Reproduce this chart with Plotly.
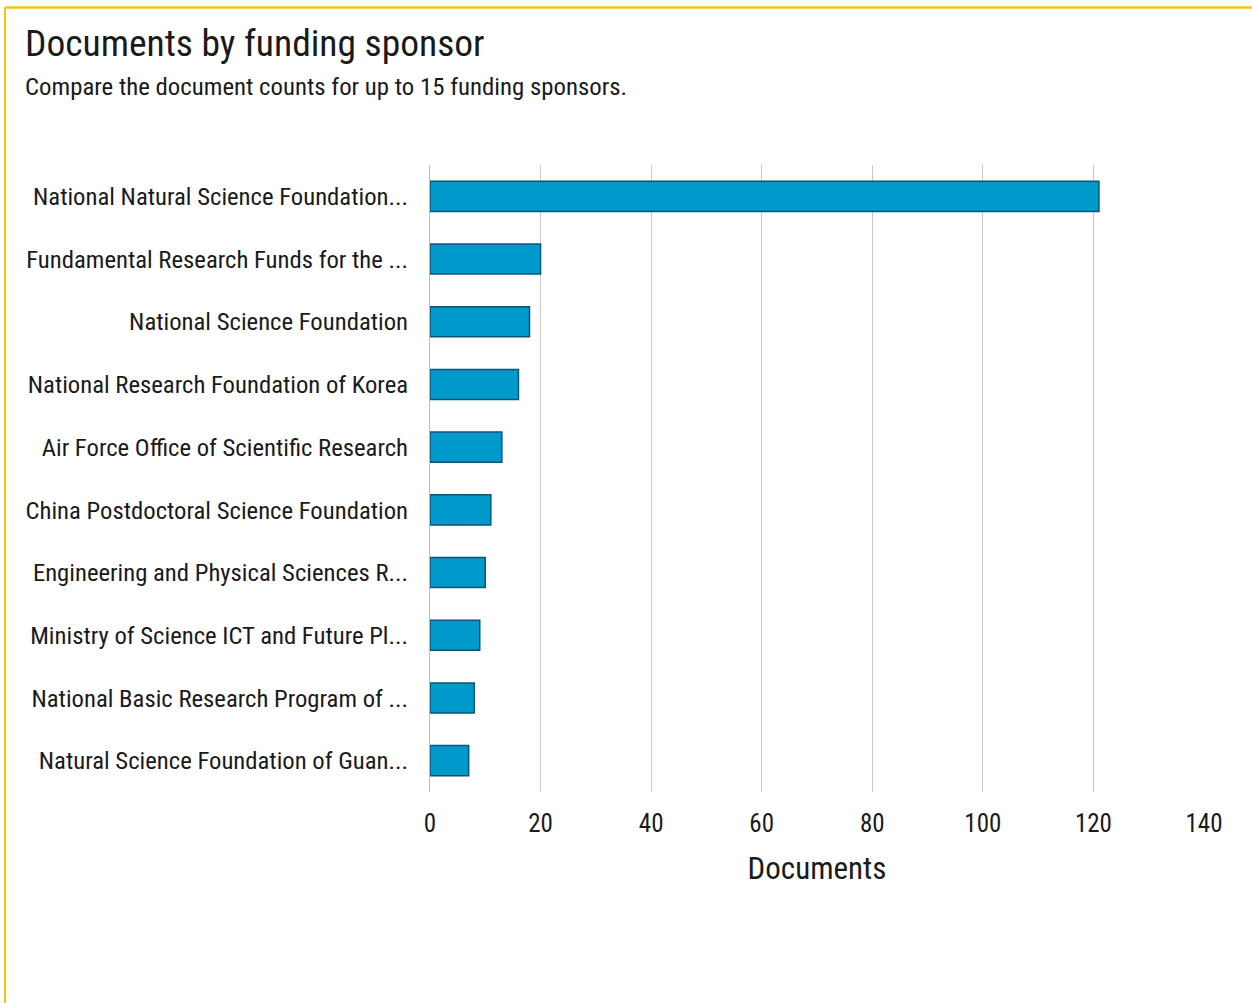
import plotly.graph_objects as go

sponsors = [
    "National Natural Science Foundation...",
    "Fundamental Research Funds for the ...",
    "National Science Foundation",
    "National Research Foundation of Korea",
    "Air Force Office of Scientific Research",
    "China Postdoctoral Science Foundation",
    "Engineering and Physical Sciences R...",
    "Ministry of Science ICT and Future Pl...",
    "National Basic Research Program of ...",
    "Natural Science Foundation of Guan...",
]
documents = [121, 20, 18, 16, 13, 11, 10, 9, 8, 7]
tick_values = [0, 20, 40, 60, 80, 100, 120, 140]

FONT = "Liberation Sans Narrow, Roboto Condensed, Liberation Sans, sans-serif"

L, R, T, B = 430, 48, 165, 211
PW, PH = 1252 - L - R, 1003 - T - B


def px_x(px):
    return (px - L) / PW


def px_y(py):
    return 1 - (py - T) / PH


fig = go.Figure(
    go.Bar(
        x=documents,
        y=sponsors,
        orientation="h",
        width=0.48,
        marker=dict(color="#0099cc", line=dict(color="#0b5578", width=1.5)),
        hoverinfo="x+y",
    )
)

fig.update_layout(
    width=1252,
    height=1003,
    paper_bgcolor="white",
    plot_bgcolor="white",
    margin=dict(l=L, r=R, t=T, b=B),
    font=dict(family=FONT, color="#1a1a1a"),
    showlegend=False,
)

fig.update_xaxes(
    range=[0, 140],
    tickvals=tick_values,
    ticktext=[str(v) for v in tick_values],
    showgrid=True,
    gridcolor="#c8c8c8",
    gridwidth=1,
    zeroline=False,
    showline=False,
    ticks="",
    ticklabelstandoff=14,
    tickfont=dict(size=25, family=FONT, color="#1a1a1a"),
    title=dict(text="Documents", font=dict(size=31, family=FONT, color="#1a1a1a"), standoff=20),
)
fig.update_yaxes(
    categoryorder="array",
    categoryarray=sponsors[::-1],
    showgrid=False,
    showline=True,
    linecolor="#a8bfe6",
    linewidth=1,
    ticks="",
    ticklabelstandoff=16,
    tickfont=dict(size=24.7, family=FONT, color="#1a1a1a"),
)

# Title and subtitle
fig.add_annotation(
    text="Documents by funding sponsor",
    xref="paper", yref="paper", x=px_x(23), y=px_y(67),
    xanchor="left", yanchor="bottom", showarrow=False,
    font=dict(size=37.5, family=FONT, color="#1a1a1a"),
)
fig.add_annotation(
    text="Compare the document counts for up to 15 funding sponsors.",
    xref="paper", yref="paper", x=px_x(23), y=px_y(103),
    xanchor="left", yanchor="bottom", showarrow=False,
    font=dict(size=24.8, family=FONT, color="#1a1a1a"),
)

# Gold frame (top and left edges)
fig.add_shape(type="line", xref="paper", yref="paper",
              x0=px_x(5), x1=px_x(1252), y0=px_y(7.5), y1=px_y(7.5),
              line=dict(color="#f9c31a", width=2.5))
fig.add_shape(type="line", xref="paper", yref="paper",
              x0=px_x(5), x1=px_x(5), y0=px_y(1003), y1=px_y(7.5),
              line=dict(color="#f9c31a", width=2))

fig.write_html("out.html", config={"displayModeBar": False},
               post_script="document.body.style.margin='0';")
